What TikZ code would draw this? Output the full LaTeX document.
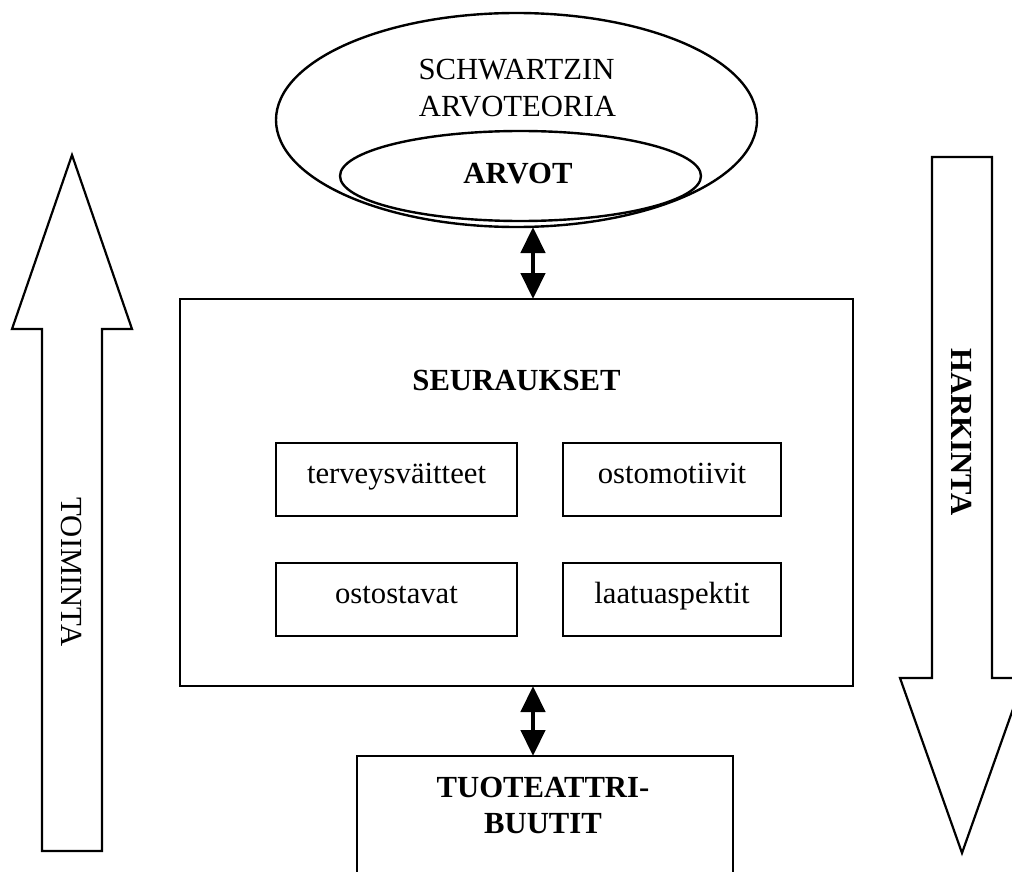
\documentclass[tikz,border=0pt]{standalone}
\usepackage{fontspec}
\setmainfont{Liberation Serif}
\usetikzlibrary{arrows.meta,shapes.geometric}
\begin{document}
\begin{tikzpicture}[x=1pt,y=-1pt,
  txt/.style={font=\fontsize{30.7}{36}\selectfont, inner sep=0pt, anchor=base},
  btxt/.style={txt, font=\fontsize{30.7}{36}\selectfont\bfseries},
  oval/.style={draw, ellipse, line width=2.4pt, inner sep=0pt, outer sep=0pt},
  panel/.style={draw, rectangle, line width=2.7pt, inner sep=0pt, outer sep=0pt, anchor=north west},
  item/.style={draw, rectangle, line width=2.3pt, inner sep=0pt, outer sep=0pt, anchor=north west,
    minimum height=73pt},
  bigarrow/.style={draw, line width=2.2pt, line join=miter},
  link/.style={line width=4.5pt,
    {Triangle[length=26pt,width=24pt]}-{Triangle[length=26pt,width=24pt]}}]
\useasboundingbox (0,0) rectangle (1012,872);
\clip (0,0) rectangle (1012,872);

% value theory and values
\node[oval, minimum width=481pt, minimum height=214pt] (theory) at (516.5,120) {};
\node[oval, minimum width=361pt, minimum height=90pt] (values) at (520.5,176) {};
\node[txt] (t1) at (516.5,80) {SCHWARTZIN};
\node[txt] (t2) at (517.5,117) {ARVOTEORIA};
\node[btxt] (t3) at (518,183) {ARVOT};

% consequences panel
\node[panel, minimum width=673pt, minimum height=387pt] (cons) at (180,299) {};
\node[btxt] (t4) at (516.5,390) {SEURAUKSET};

\node[item, minimum width=241pt] (b1) at (276,443) {};
\node[item, minimum width=218pt] (b2) at (563,443) {};
\node[item, minimum width=241pt] (b3) at (276,563) {};
\node[item, minimum width=218pt] (b4) at (563,563) {};
\node[txt] at (b1.north |- 0,483) {terveysväitteet};
\node[txt] at (b2.north |- 0,483) {ostomotiivit};
\node[txt] at (b3.north |- 0,603) {ostostavat};
\node[txt] at (b4.north |- 0,603) {laatuaspektit};

% product attributes
\node[panel, minimum width=376pt, minimum height=140pt] (attr) at (357,756) {};
\node[btxt] (t5) at (543,797) {TUOTEATTRI-};
\node[btxt] (t6) at (543,833) {BUUTIT};

% two-way links
\coordinate (ax) at (533,0);
\draw[link] (theory.south -| ax) -- (cons.north -| ax);
\draw[link] (cons.south -| ax) -- (attr.north -| ax);

% side arrows
\draw[bigarrow] (42,851) -- (42,329) -- (12,329) -- (72,155) -- (132,329)
  -- (102,329) -- (102,851) -- cycle;
\node[txt, anchor=center, rotate=-90] (act) at (72,572) {TOIMINTA};

\draw[bigarrow] (932,157) -- (992,157) -- (992,678) -- (1024,678) -- (962,853)
  -- (900,678) -- (932,678) -- cycle;
\node[btxt, anchor=center, rotate=-90] (delib) at (962,432) {HARKINTA};
\end{tikzpicture}
\end{document}
